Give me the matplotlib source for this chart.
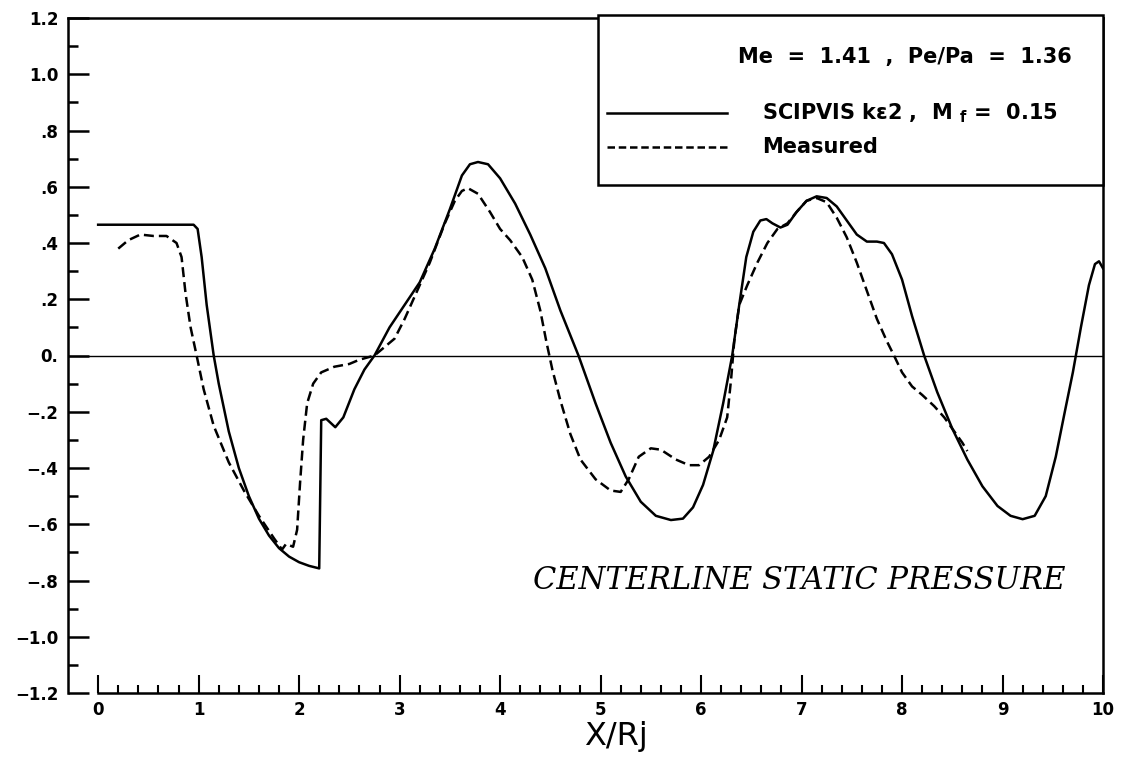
import matplotlib
matplotlib.use('Agg')
import matplotlib.pyplot as plt
from matplotlib.ticker import FixedLocator
from matplotlib.patches import Rectangle
from matplotlib.lines import Line2D

# SCIPVIS ke2 prediction, Mf = 0.15
calc_x = [0.0, 0.95, 0.99, 1.03, 1.08, 1.15, 1.2, 1.3, 1.4, 1.5, 1.6, 1.7,
          1.8, 1.9, 2.0, 2.1, 2.2,
          2.22, 2.27, 2.36, 2.44, 2.55, 2.65, 2.75, 2.9, 3.05, 3.2, 3.35, 3.5,
          3.62, 3.7, 3.78, 3.88, 4.0, 4.15, 4.3, 4.45, 4.6, 4.78, 4.95, 5.1,
          5.25, 5.4, 5.55, 5.7, 5.82, 5.92, 6.02, 6.12, 6.22, 6.31, 6.38, 6.45, 6.52,
          6.59, 6.65, 6.71, 6.79, 6.86, 6.95, 7.05, 7.15, 7.25, 7.35, 7.45, 7.55,
          7.65, 7.75, 7.82, 7.9, 8.0, 8.1, 8.22, 8.35, 8.5, 8.65, 8.8, 8.95,
          9.08, 9.2, 9.32, 9.43, 9.53, 9.62, 9.7, 9.78, 9.86, 9.92, 9.96, 10.0]
calc_y = [0.465, 0.465, 0.45, 0.35, 0.18, 0.0, -0.1, -0.27, -0.4, -0.5, -0.58, -0.64,
          -0.685, -0.715, -0.735, -0.748, -0.757,
          -0.23, -0.225, -0.255, -0.22, -0.12, -0.05, 0.0, 0.1, 0.18, 0.26, 0.38, 0.52,
          0.64, 0.68, 0.688, 0.68, 0.63, 0.54, 0.43, 0.31, 0.16, 0.0, -0.17, -0.31,
          -0.43, -0.52, -0.57, -0.585, -0.58, -0.54, -0.46, -0.34, -0.17, 0.0, 0.18, 0.35, 0.44,
          0.48, 0.485, 0.47, 0.455, 0.465, 0.51, 0.55, 0.566, 0.56, 0.53, 0.48, 0.43,
          0.405, 0.405, 0.4, 0.36, 0.27, 0.14, 0.0, -0.13, -0.26, -0.37, -0.465, -0.535,
          -0.57, -0.582, -0.57, -0.5, -0.36, -0.2, -0.06, 0.1, 0.25, 0.325, 0.335, 0.31]

# measured
meas_x = [0.2, 0.3, 0.42, 0.55, 0.68, 0.78, 0.83, 0.87, 0.92, 0.98, 1.05, 1.15,
          1.3, 1.45, 1.6, 1.75, 1.83, 1.87, 1.94, 1.98, 2.01, 2.04, 2.08, 2.14,
          2.22, 2.35, 2.5, 2.6, 2.75, 2.85, 2.95, 3.05, 3.15, 3.3, 3.45, 3.55,
          3.62, 3.68, 3.78, 3.9, 4.0, 4.1, 4.22, 4.32, 4.4, 4.46, 4.52, 4.6,
          4.7, 4.8, 4.95, 5.1, 5.2, 5.28, 5.38, 5.5, 5.6, 5.75, 5.88, 5.98,
          6.08, 6.18, 6.26, 6.3, 6.33, 6.38, 6.46, 6.56, 6.66, 6.76, 6.86, 6.95,
          7.05, 7.15, 7.25, 7.35, 7.45, 7.55, 7.65, 7.75, 7.85, 7.92, 8.0, 8.1,
          8.2, 8.32, 8.42, 8.52, 8.6, 8.65]
meas_y = [0.38, 0.41, 0.43, 0.425, 0.425, 0.40, 0.35, 0.22, 0.1, 0.0, -0.12, -0.25,
          -0.38, -0.48, -0.57, -0.65, -0.69, -0.67, -0.68, -0.62, -0.45, -0.3, -0.17, -0.1,
          -0.06, -0.04, -0.03, -0.015, 0.0, 0.03, 0.06, 0.13, 0.21, 0.33, 0.47, 0.55,
          0.585, 0.595, 0.575, 0.51, 0.45, 0.41, 0.35, 0.27, 0.16, 0.05, -0.05, -0.16,
          -0.28, -0.37, -0.44, -0.48, -0.485, -0.44, -0.36, -0.33, -0.335, -0.37, -0.39, -0.39,
          -0.36, -0.3, -0.22, -0.08, 0.05, 0.18, 0.25, 0.33, 0.4, 0.45, 0.47, 0.51,
          0.55, 0.56, 0.545, 0.49, 0.42, 0.33, 0.23, 0.13, 0.05, 0.0, -0.06, -0.11,
          -0.14, -0.18, -0.22, -0.27, -0.31, -0.34]

y_ticks = [-1.2, -1.0, -0.8, -0.6, -0.4, -0.2, 0.0, 0.2, 0.4, 0.6, 0.8, 1.0, 1.2]
y_labels = ['\u22121.2', '\u22121.0', '\u2212.8', '\u2212.6', '\u2212.4', '\u2212.2',
            '0.', '.2', '.4', '.6', '.8', '1.0', '1.2']
y_minor = [-1.1, -0.9, -0.7, -0.5, -0.3, -0.1, 0.1, 0.3, 0.5, 0.7, 0.9, 1.1]
x_ticks = [0, 1, 2, 3, 4, 5, 6, 7, 8, 9, 10]
x_minor = [i / 5 for i in range(51) if i % 5]

W, H = 1147, 757
fig = plt.figure(figsize=(W / 100, H / 100), dpi=100)
ax = fig.add_axes([68 / W, 1 - 693 / H, (1103 - 68) / W, (693 - 18) / H])

ax.plot(calc_x, calc_y, color='k', lw=1.8, solid_joinstyle='round')
ax.plot(meas_x, meas_y, color='k', lw=1.8, linestyle='--', dashes=(4, 2))
ax.axhline(0, color='k', lw=1.0)

ax.set_xlim(-0.3, 10)
ax.set_ylim(-1.2, 1.2)

for s in ax.spines.values():
    s.set_linewidth(1.8)
ax.spines['bottom'].set_bounds(0, 10)

ax.set_yticks(y_ticks)
ax.set_yticklabels(y_labels, fontweight='bold', fontsize=12)
ax.yaxis.set_minor_locator(FixedLocator(y_minor))
ax.set_xticks(x_ticks)
ax.set_xticklabels([str(v) for v in x_ticks], fontweight='bold', fontsize=12)
ax.xaxis.set_minor_locator(FixedLocator(x_minor))
ax.tick_params(axis='y', which='major', direction='in', length=15, width=1.8, pad=7)
ax.tick_params(axis='y', which='minor', direction='in', length=7, width=1.8)
ax.tick_params(axis='x', which='major', direction='in', length=13, width=1.5, pad=6)
ax.tick_params(axis='x', which='minor', direction='in', length=6, width=1.5)

# key box in the upper right
bx0 = (598 - 68) / 1035
by0 = (693 - 185) / 675
ax.add_patch(Rectangle((bx0, by0), 1 - bx0, 1.005 - by0, transform=ax.transAxes,
                       facecolor='white', edgecolor='k', lw=1.8, zorder=3, clip_on=False))
ax.text(0.970, 0.942, 'Me  =  1.41  ,  Pe/Pa  =  1.36', transform=ax.transAxes,
        ha='right', va='center', fontsize=15, fontweight='bold', zorder=4)
ax.add_line(Line2D([0.521, 0.637], [0.859, 0.859], transform=ax.transAxes,
                   color='k', lw=1.8, zorder=4))
ax.add_line(Line2D([0.521, 0.637], [0.809, 0.809], transform=ax.transAxes,
                   color='k', lw=1.8, linestyle='--', dashes=(3, 1.5), zorder=4))
ax.text(0.6705, 0.859, 'SCIPVIS k\u03b52 ,  M $_{\\mathbf{f}}$ =  0.15',
        transform=ax.transAxes, ha='left', va='center', fontsize=15,
        fontweight='bold', zorder=4)
ax.text(0.6705, 0.809, 'Measured', transform=ax.transAxes, ha='left', va='center',
        fontsize=15, fontweight='bold', zorder=4)

ax.text(0.7065, 0.167, 'CENTERLINE STATIC PRESSURE', transform=ax.transAxes,
        ha='center', va='center', fontsize=22, family='DejaVu Serif', style='italic')

fig.text(616 / W, 1 - 737 / H, 'X/Rj', ha='center', va='center', fontsize=23)

fig.savefig('out.png', dpi=100)
